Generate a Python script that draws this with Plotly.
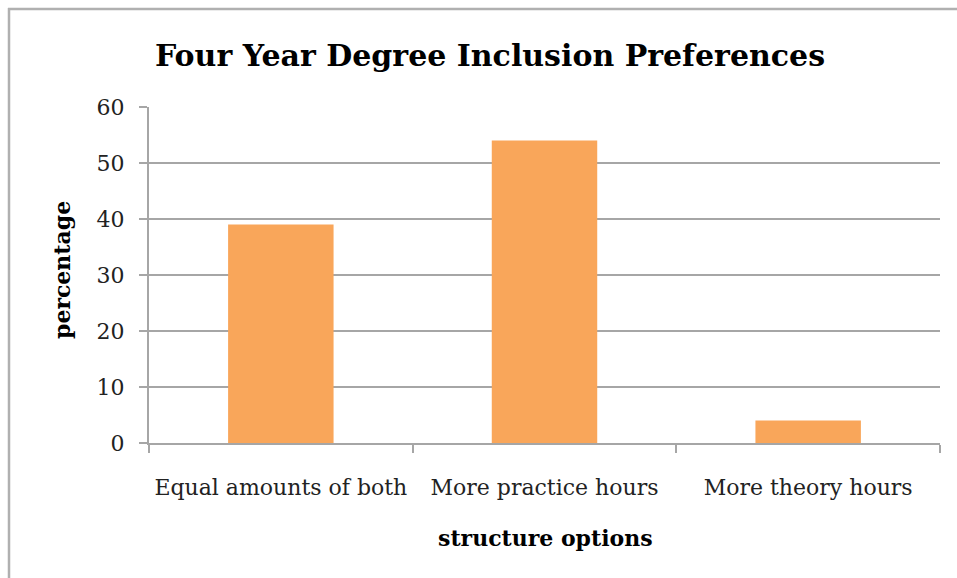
import plotly.graph_objects as go

categories = ["Equal amounts of both", "More practice hours", "More theory hours"]
values = [39, 54, 4]
y_ticks = [0, 10, 20, 30, 40, 50, 60]

W, H = 957, 578
L, R, T, B = 149, 17, 107, 135
pw, ph = W - L - R, H - T - B

def px_x(x):
    return (x - L) / pw

def px_y(y):
    return (H - B - y) / ph

fig = go.Figure(go.Bar(x=categories, y=values, marker=dict(color="#F9A65A", line=dict(width=0)), width=0.4))

serif = "DejaVu Serif"
fig.update_layout(
    width=W, height=H,
    margin=dict(l=L, r=R, t=T, b=B, pad=0),
    paper_bgcolor="white", plot_bgcolor="white",
    showlegend=False,
    font=dict(family=serif, size=22, color="#222"),
    title=dict(text="<b>Four Year Degree Inclusion Preferences</b>", x=490 / W, xanchor="center",
               y=1 - 55 / H, yanchor="middle", font=dict(family=serif, size=30, color="black")),
    xaxis=dict(type="category", tickson="boundaries", ticks="outside", ticklen=8, tickwidth=2,
               tickcolor="#a6a6a6", showline=True, linecolor="#a6a6a6", linewidth=2,
               showgrid=False, ticklabelstandoff=24, tickfont=dict(size=22, color="#222")),
    yaxis=dict(range=[0, 60], tickvals=y_ticks, ticks="outside", ticklen=8, tickwidth=2,
               tickcolor="#a6a6a6", showline=True, linecolor="#a6a6a6", linewidth=2,
               gridcolor="#a6a6a6", gridwidth=1.5, zeroline=False, ticklabelstandoff=10,
               tickfont=dict(size=22, color="#222")),
    annotations=[
        dict(text="<b>structure options</b>", xref="paper", yref="paper", x=px_x(545), y=px_y(538),
             showarrow=False, font=dict(family=serif, size=22, color="black"), xanchor="center", yanchor="middle"),
        dict(text="<b>percentage</b>", xref="paper", yref="paper", x=px_x(62), y=px_y(270),
             showarrow=False, textangle=-90, font=dict(family=serif, size=22, color="black"),
             xanchor="center", yanchor="middle"),
    ],
    shapes=[
        dict(type="line", xref="paper", yref="paper", x0=px_x(8), x1=px_x(965), y0=px_y(9), y1=px_y(9),
             line=dict(color="#b0b0b0", width=2.5)),
        dict(type="line", xref="paper", yref="paper", x0=px_x(9), x1=px_x(9), y0=px_y(8), y1=px_y(590),
             line=dict(color="#b0b0b0", width=2.5)),
    ],
)

fig.write_html("out.html")
